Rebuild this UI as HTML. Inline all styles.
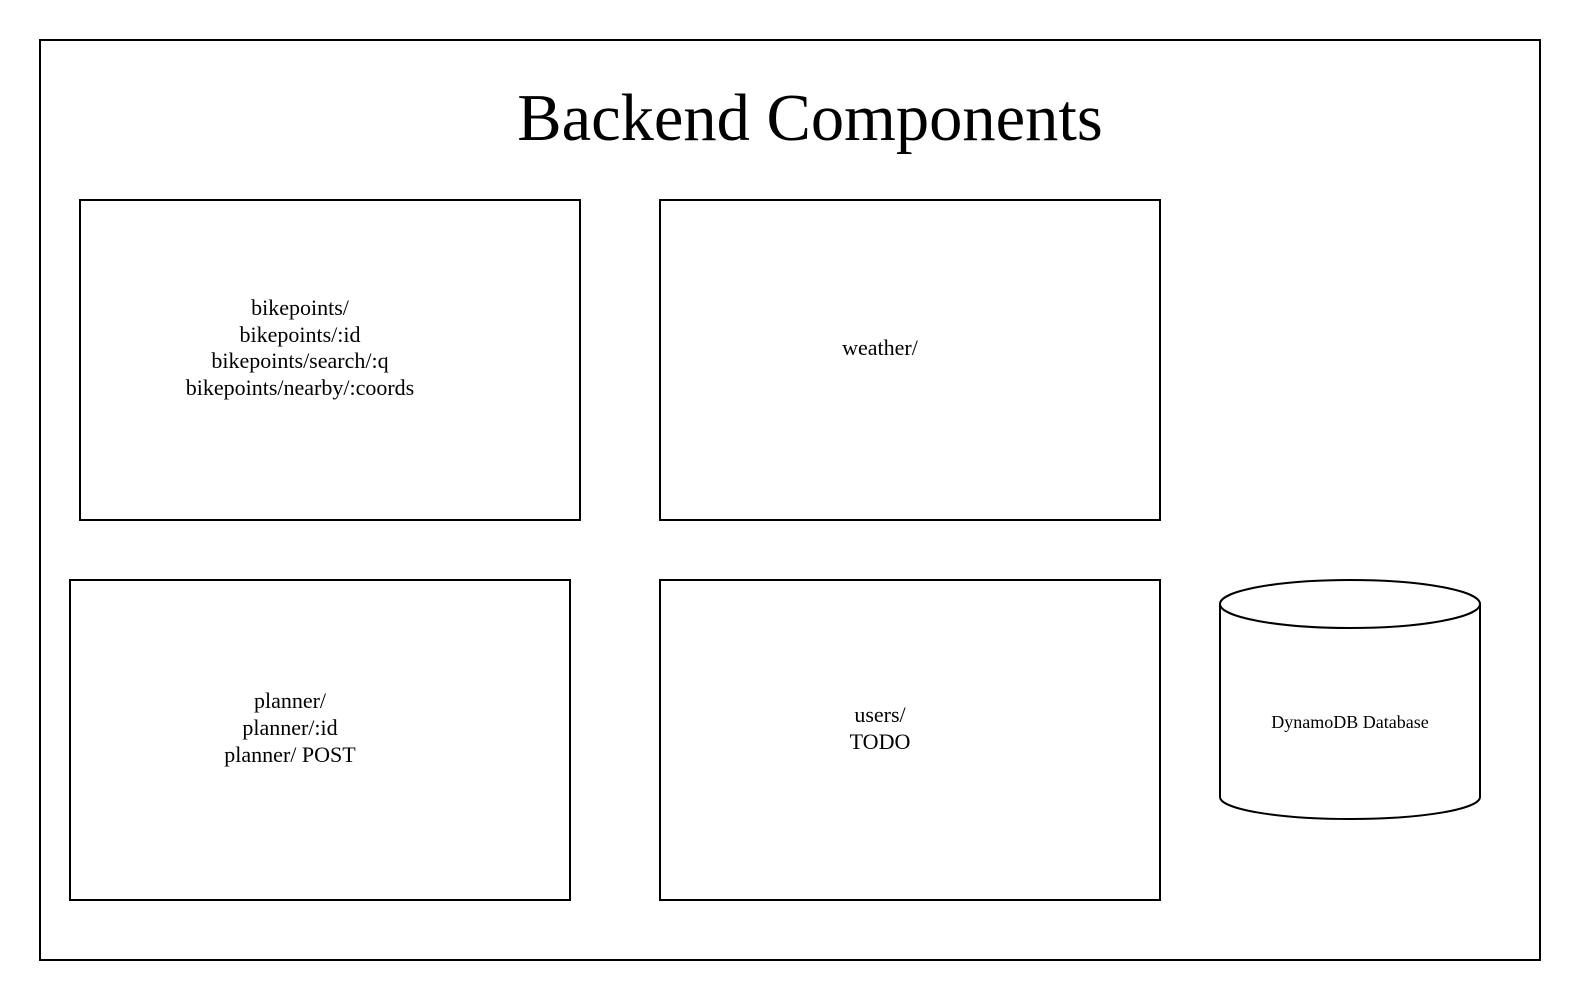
<!DOCTYPE html>
<html><head><meta charset="utf-8"><style>
body{margin:0;background:#fff;}
svg text{font-family:"Liberation Serif",serif;fill:#000;}
</style></head><body>
<svg width="1580" height="1000" xmlns="http://www.w3.org/2000/svg">
<rect x="0" y="0" width="1580" height="1000" fill="#fff"/>
<g fill="none" stroke="#000" stroke-width="2">
<rect x="40" y="40" width="1500" height="920"/>
<rect x="80" y="200" width="500" height="320"/>
<rect x="660" y="200" width="500" height="320"/>
<rect x="70" y="580" width="500" height="320"/>
<rect x="660" y="580" width="500" height="320"/>
<path d="M1220 604 L1220 797 A130 22 0 0 0 1480 797 L1480 604"/>
<ellipse cx="1350" cy="604" rx="130" ry="24"/>
</g>
<text x="810" y="140" font-size="66.5" text-anchor="middle">Backend Components</text>
<g font-size="22" text-anchor="middle">
<text x="300" y="315">bikepoints/</text>
<text x="300" y="342">bikepoints/:id</text>
<text x="300" y="368">bikepoints/search/:q</text>
<text x="300" y="395">bikepoints/nearby/:coords</text>
<text x="880" y="355">weather/</text>
<text x="290" y="708">planner/</text>
<text x="290" y="735">planner/:id</text>
<text x="290" y="762">planner/ POST</text>
<text x="880" y="722">users/</text>
<text x="880" y="749">TODO</text>
</g>
<text x="1350" y="728" font-size="18" text-anchor="middle">DynamoDB Database</text>
</svg>
</body></html>
